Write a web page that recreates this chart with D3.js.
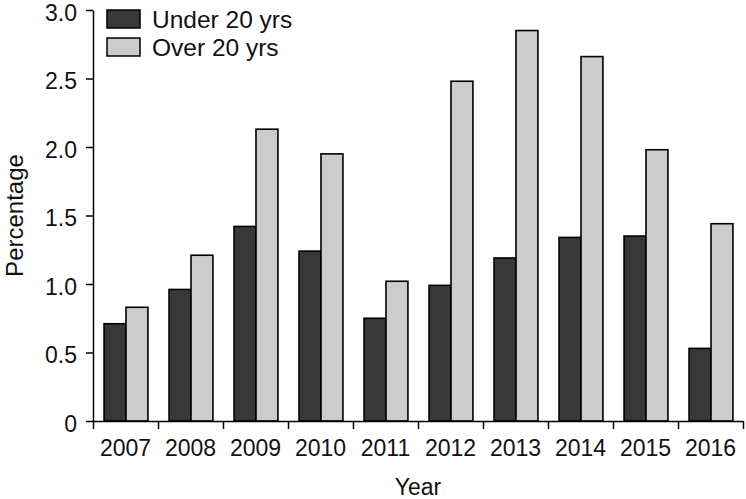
<!DOCTYPE html>
<html>
<head>
<meta charset="utf-8">
<script src="https://cdn.jsdelivr.net/npm/d3@7"></script>
<style>
  body { margin: 0; background: #fff; }
  text { font-family: "Liberation Sans", Arial, sans-serif; fill: #111; }
</style>
</head>
<body>
<div id="chart"></div>
<script>
// data
var years = ["2007", "2008", "2009", "2010", "2011", "2012", "2013", "2014", "2015", "2016"]
var seriesNames = ["Under 20 yrs", "Over 20 yrs"]
var under20 = [0.71, 0.96, 1.42, 1.24, 0.75, 0.99, 1.19, 1.34, 1.35, 0.53]
var over20 = [0.83, 1.21, 2.13, 1.95, 1.02, 2.48, 2.85, 2.66, 1.98, 1.44]
var yTicks = [0, 0.5, 1.0, 1.5, 2.0, 2.5, 3.0]
var colors = ["#383838", "#cccccc"]

var width = 746
var height = 499
var margin = {left: 93, right: 3, top: 10, bottom: 78}

var svg = d3.select("#chart")
  .append("svg")
    .attr("width", width)
    .attr("height", height)

var x = d3.scaleBand()
  .domain(years)
  .range([margin.left, width - margin.right])
  .padding(0)

var xSub = d3.scaleBand()
  .domain(seriesNames)
  .range([x.bandwidth() * 0.17, x.bandwidth() * 0.845])

var y = d3.scaleLinear()
  .domain([0, 3])
  .range([height - margin.bottom, margin.top])

var rows = years.map(function(yr, i) {
  return {year: yr, values: [under20[i], over20[i]]}
})

// bars
var groups = svg.selectAll("g.year")
  .data(rows)
  .enter()
  .append("g")
    .attr("class", "year")
    .attr("transform", function(d) { return "translate(" + x(d.year) + ",0)" })

groups.selectAll("rect")
  .data(function(d) {
    return d.values.map(function(v, j) { return {name: seriesNames[j], value: v, idx: j} })
  })
  .enter()
  .append("rect")
    .attr("x", function(d) { return xSub(d.name) })
    .attr("y", function(d) { return y(d.value) })
    .attr("width", xSub.bandwidth())
    .attr("height", function(d) { return y(0) - y(d.value) })
    .attr("fill", function(d) { return colors[d.idx] })
    .attr("stroke", "#000")
    .attr("stroke-width", 1.6)

// y axis
var yAxis = svg.append("g")
  .attr("transform", "translate(" + margin.left + ",0)")
  .call(d3.axisLeft(y)
    .tickValues(yTicks)
    .tickFormat(function(d) { return d === 0 ? "0" : d3.format(".1f")(d) })
    .tickSize(7)
    .tickSizeOuter(0)
    .tickPadding(9))
yAxis.selectAll("text").style("font-size", "23px").attr("dy", "0.45em")
yAxis.selectAll("path, line").attr("stroke", "#000").attr("stroke-width", 1.5)

// x axis: labels centred in each band, ticks on the band edges
var xAxis = svg.append("g")
  .attr("transform", "translate(0," + y(0) + ")")
  .call(d3.axisBottom(x).tickSize(0).tickSizeOuter(0).tickPadding(19))
xAxis.selectAll("text").style("font-size", "23px")
xAxis.select("path").attr("stroke", "#000").attr("stroke-width", 1.5)

var edges = d3.scaleLinear()
  .domain([0, years.length])
  .range(x.range())
svg.append("g")
  .attr("transform", "translate(0," + y(0) + ")")
  .call(d3.axisBottom(edges).ticks(years.length).tickFormat("").tickSize(8).tickSizeOuter(0))
  .call(function(g) { g.select("path").remove() })
  .selectAll("line").attr("stroke", "#000").attr("stroke-width", 1.5)

// axis titles
svg.append("text")
  .attr("x", (x.range()[0] + x.range()[1]) / 2)
  .attr("y", 495)
  .attr("text-anchor", "middle")
  .style("font-size", "23px")
  .text("Year")

svg.append("text")
  .attr("transform", "translate(22.5," + (y(0) + y(3)) / 2 + ") rotate(-90)")
  .attr("text-anchor", "middle")
  .style("font-size", "24px")
  .text("Percentage")

// legend
var legend = svg.append("g")
  .attr("transform", "translate(107,10)")

var items = legend.selectAll("g")
  .data(seriesNames)
  .enter()
  .append("g")
    .attr("transform", function(d, i) { return "translate(0," + (i * 28) + ")" })

items.append("rect")
  .attr("width", 33)
  .attr("height", 18)
  .attr("fill", function(d, i) { return colors[i] })
  .attr("stroke", "#000")
  .attr("stroke-width", 1.5)

items.append("text")
  .attr("x", 45)
  .attr("y", 17.5)
  .style("font-size", "24.5px")
  .text(function(d) { return d })
</script>
</body>
</html>
